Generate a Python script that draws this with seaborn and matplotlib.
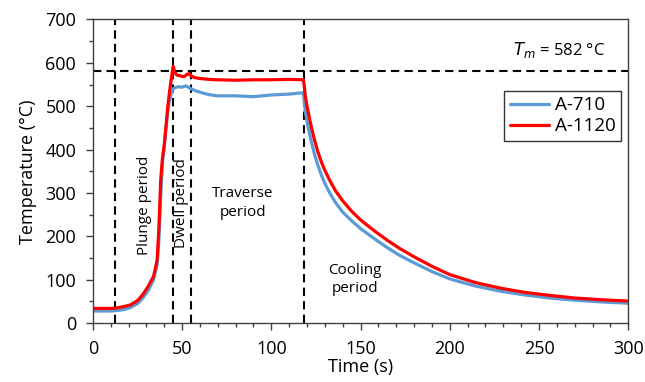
import numpy as np
import pandas as pd
import matplotlib
matplotlib.use('Agg')
import matplotlib.pyplot as plt
from matplotlib.ticker import MultipleLocator
import seaborn as sns

# Temperature history
time_a710 = [0, 10, 13, 17, 21, 25, 28, 31, 34, 36, 37, 38, 39, 40, 41, 42, 43, 44, 45, 46,
             48, 50, 52, 53, 55, 58, 62, 66, 70, 80, 90, 100, 110, 117, 118, 118.5, 119, 120,
             122, 124, 126, 128, 130, 133, 136, 140, 145, 150, 158, 165, 172, 180, 190, 200,
             214, 228, 242, 256, 270, 285, 300]
temp_a710 = [28, 28, 29, 31, 36, 45, 58, 75, 100, 135, 190, 290, 370, 410, 450, 490, 515, 530, 540, 543,
             545, 544, 547, 545, 540, 535, 530, 526, 524, 524, 522, 526, 528, 531, 528, 510, 490, 465,
             425, 392, 365, 342, 322, 298, 278, 256, 236, 218, 194, 174, 156, 139, 119, 102,
             86, 74, 65, 58, 53, 49, 46]

time_a1120 = [0, 10, 13, 17, 21, 25, 28, 31, 34, 36, 37, 38, 39, 40, 41, 42, 43, 44, 45, 46,
              47, 49, 51, 53, 54, 55, 57, 60, 65, 70, 80, 90, 100, 110, 118, 118.5, 119, 120,
              122, 124, 126, 128, 130, 133, 136, 140, 145, 150, 158, 165, 172, 180, 190, 200,
              214, 228, 242, 256, 270, 285, 300]
temp_a1120 = [34, 34, 35, 38, 42, 52, 66, 85, 108, 145, 220, 330, 380, 410, 455, 500, 535, 565, 592, 578,
               572, 570, 568, 574, 575, 570, 566, 564, 562, 561, 560, 561, 561, 562, 561, 545, 525, 500,
               460, 425, 396, 372, 352, 327, 305, 282, 258, 238, 212, 191, 172, 153, 131, 112,
               94, 81, 71, 64, 58, 54, 51]

period_bounds = [12.5, 45, 55, 118.5]
t_melt = 582

df = pd.concat([
    pd.DataFrame({'Time': time_a710, 'Temp': temp_a710, 'Alloy': 'A-710'}),
    pd.DataFrame({'Time': time_a1120, 'Temp': temp_a1120, 'Alloy': 'A-1120'}),
], ignore_index=True)

sns.set_theme(style='ticks')
plt.rcParams['font.family'] = ['Open Sans', 'DejaVu Sans']
plt.rcParams['text.color'] = 'black'
plt.rcParams['axes.labelcolor'] = 'black'

fig, ax = plt.subplots(figsize=(6.45, 3.82), dpi=100)
fig.subplots_adjust(left=0.144, right=0.974, top=0.949, bottom=0.154)

sns.lineplot(data=df, x='Time', y='Temp', hue='Alloy', sort=False, estimator=None,
             palette={'A-710': '#5B9BD5', 'A-1120': '#FF0000'}, linewidth=2.3, ax=ax)

for xb in period_bounds:
    ax.axvline(xb, color='black', linewidth=1.5, linestyle=(0, (4, 2.5)), zorder=1)
ax.axhline(t_melt, color='black', linewidth=1.5, linestyle=(0, (4, 2.5)), zorder=1)

ax.set_xlim(0, 300)
ax.set_ylim(0, 700)
ax.xaxis.set_major_locator(MultipleLocator(50))
ax.xaxis.set_minor_locator(MultipleLocator(10))
ax.yaxis.set_major_locator(MultipleLocator(100))
ax.yaxis.set_minor_locator(MultipleLocator(50))
ax.tick_params(which='major', direction='out', length=5, width=1, color='#404040',
               labelsize=13, pad=7, labelcolor='black')
ax.tick_params(which='minor', direction='out', length=3, width=1, color='#404040')
for s in ax.spines.values():
    s.set_visible(True)
    s.set_color('#404040')
    s.set_linewidth(1.0)

ax.set_xlabel('Time (s)', fontsize=13, labelpad=0)
ax.set_ylabel('Temperature (°C)', fontsize=13, labelpad=6)

# Period annotations
ax.text(29, 272, 'Plunge period', rotation=90, ha='center', va='center', fontsize=11)
ax.text(49.5, 277, 'Dwell period', rotation=90, ha='center', va='center', fontsize=11)
ax.text(84, 277, 'Traverse\nperiod', ha='center', va='center', fontsize=11, linespacing=1.3)
ax.text(147, 100, 'Cooling\nperiod', ha='center', va='center', fontsize=11, linespacing=1.3)
ax.text(287, 630, '$T_m$ = 582 °C', ha='right', va='center', fontsize=12)

leg = ax.legend(loc='upper right', bbox_to_anchor=(0.987, 0.765), fontsize=13.5,
                frameon=True, fancybox=False, edgecolor='black', handlelength=2.1,
                borderpad=0.3, labelspacing=0.15, handletextpad=0.3, borderaxespad=0)
leg.get_frame().set_linewidth(1.0)

fig.savefig('out.png', dpi=100)
